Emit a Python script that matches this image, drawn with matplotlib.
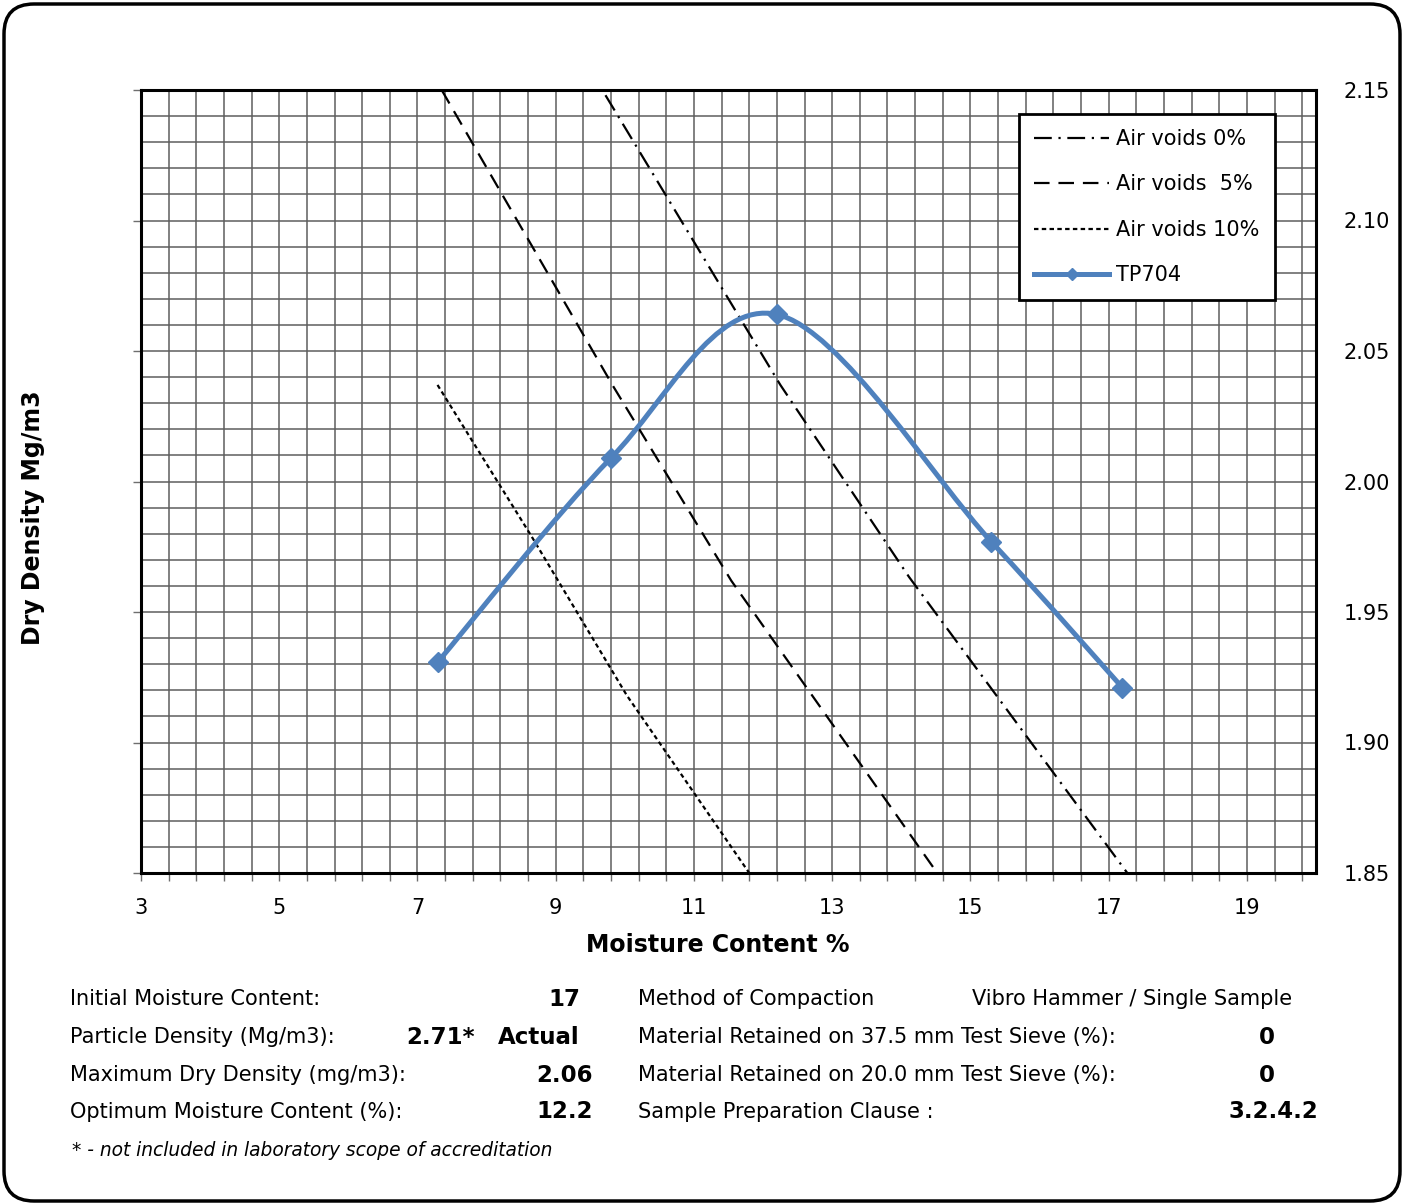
import numpy as np
import matplotlib
matplotlib.use("Agg")
import matplotlib.pyplot as plt
from matplotlib.path import Path
from matplotlib.patches import PathPatch, FancyBboxPatch
from matplotlib.lines import Line2D
from matplotlib.ticker import MultipleLocator, FormatStrFormatter

# compaction test results
moisture = [7.3, 9.8, 12.2, 15.3, 17.2]
dry_density = [1.931, 2.009, 2.064, 1.977, 1.921]
series_name = "TP704"

# air voids lines (moisture %, dry density)
av0_w = [9.72, 12.25, 14.11, 17.27]
av0_d = [2.148, 2.037, 1.9635, 1.850]
av5_w = [7.35, 9.82, 11.54, 14.52]
av5_d = [2.150, 2.037, 1.962, 1.850]
av10_w = [7.29, 8.65, 10.03, 11.80]
av10_d = [2.037, 1.979, 1.918, 1.850]

left_labels = ["Initial Moisture Content:", "Particle Density (Mg/m3):",
               "Maximum Dry Density (mg/m3):", "Optimum Moisture Content (%):"]
right_labels = ["Method of Compaction",
                "Material Retained on 37.5 mm Test Sieve (%):",
                "Material Retained on 20.0 mm Test Sieve (%):",
                "Sample Preparation Clause :"]

blue = "#4F81BD"
W, H = 1407, 1204
plt.rcParams["font.family"] = "DejaVu Sans"


def smooth_path(xs, ys):
    # bezier segments with catmull-rom style control points (spreadsheet "smoothed line")
    pts = np.column_stack([xs, ys])
    n = len(pts)
    verts = [pts[0]]
    codes = [Path.MOVETO]
    for i in range(n - 1):
        p0 = pts[i - 1] if i > 0 else pts[i]
        p1 = pts[i]
        p2 = pts[i + 1]
        p3 = pts[i + 2] if i + 2 < n else pts[i + 1]
        verts += [p1 + (p2 - p0) / 6, p2 - (p3 - p1) / 6, p2]
        codes += [Path.CURVE4] * 3
    return Path(verts, codes)


def fx(px):
    return px / W


def fy(py):
    return 1 - py / H


fig = plt.figure(figsize=(W / 100, H / 100), dpi=100)
ax = fig.add_axes([fx(141), fy(873), fx(1316) - fx(141), fy(90) - fy(873)])

lw_av = 1.6
ax.plot(av0_w, av0_d, color="black", lw=lw_av, dashes=(8, 3, 1, 3), zorder=3)
ax.plot(av5_w, av5_d, color="black", lw=lw_av, dashes=(7, 4), zorder=3)
ax.plot(av10_w, av10_d, color="black", lw=lw_av, dashes=(2, 1.5), zorder=3)

ax.add_patch(PathPatch(smooth_path(moisture, dry_density), fill=False,
                       edgecolor=blue, lw=3.6, zorder=4, capstyle="round"))
ax.plot(moisture, dry_density, linestyle="none", marker="D", ms=10,
        color=blue, zorder=5)

ax.set_xlim(3, 20)
ax.set_ylim(1.85, 2.15)
ax.xaxis.set_major_locator(MultipleLocator(2, offset=1))
ax.xaxis.set_minor_locator(MultipleLocator(0.4, offset=0.2))
ax.yaxis.set_major_locator(MultipleLocator(0.05))
ax.yaxis.set_minor_locator(MultipleLocator(0.01))
ax.yaxis.set_major_formatter(FormatStrFormatter("%.2f"))

ax.set_axisbelow(True)
ax.grid(which="both", color="#5e5e5e", lw=1.1)
for sp in ax.spines.values():
    sp.set_linewidth(2.2)
    sp.set_color("black")
    sp.set_zorder(6)

ax.tick_params(axis="x", which="both", direction="out", length=6, width=1,
               color="#6e6e6e", labelsize=15, pad=12)
ax.tick_params(axis="y", which="major", direction="out", length=6, width=1,
               color="#6e6e6e", left=True, right=False, labelleft=False,
               labelright=True, labelsize=15, pad=14)
ax.tick_params(axis="y", which="minor", left=False, right=False)

handles = [
    Line2D([], [], color="black", lw=lw_av, dashes=(8, 3, 1, 3)),
    Line2D([], [], color="black", lw=lw_av, dashes=(7, 4)),
    Line2D([], [], color="black", lw=lw_av, dashes=(2, 1.5)),
    Line2D([], [], color=blue, lw=3.6, marker="D", ms=6),
]
labels = ["Air voids 0%", "Air voids  5%", "Air voids 10%", series_name]
leg = ax.legend(handles, labels, loc="upper left",
                bbox_to_anchor=(fx(1019), fy(114)), bbox_transform=fig.transFigure,
                fontsize=15, frameon=True, fancybox=False, framealpha=1,
                edgecolor="black", handlelength=3.6, handletextpad=0.35,
                labelspacing=1.22, borderpad=0.72, borderaxespad=0)
leg.get_frame().set_linewidth(2)
leg.set_zorder(10)

fig.text(fx(718), fy(945), "Moisture Content %", fontsize=17, fontweight="bold",
         ha="center", va="center")
fig.text(fx(33), fy(518), "Dry Density Mg/m3", fontsize=17, fontweight="bold",
         ha="center", va="center", rotation=90)

# results table under the chart
rows_y = [999, 1037, 1075, 1112]
for lab, y in zip(left_labels, rows_y):
    fig.text(fx(70), fy(y), lab, fontsize=15, ha="left", va="center")
for lab, y in zip(right_labels, rows_y):
    fig.text(fx(638), fy(y), lab, fontsize=15, ha="left", va="center")

bold = dict(fontsize=16.5, fontweight="bold", va="center")
fig.text(fx(580), fy(rows_y[0]), "17", ha="right", **bold)
fig.text(fx(406), fy(rows_y[1]), "2.71*", ha="left", **bold)
fig.text(fx(580), fy(rows_y[1]), "Actual", ha="right", **bold)
fig.text(fx(593), fy(rows_y[2]), "2.06", ha="right", **bold)
fig.text(fx(593), fy(rows_y[3]), "12.2", ha="right", **bold)

fig.text(fx(1292), fy(rows_y[0]), "Vibro Hammer / Single Sample", fontsize=15,
         ha="right", va="center")
fig.text(fx(1267), fy(rows_y[1]), "0", ha="center", **bold)
fig.text(fx(1267), fy(rows_y[2]), "0", ha="center", **bold)
fig.text(fx(1318), fy(rows_y[3]), "3.2.4.2", ha="right", **bold)

fig.text(fx(72), fy(1151), "* - not included in laboratory scope of accreditation",
         fontsize=13.4, style="italic", ha="left", va="center")

# rounded frame around the whole sheet
frame = FancyBboxPatch((0.04, 0.03), 13.96, 11.97,
                       boxstyle="round,pad=0,rounding_size=0.3",
                       transform=fig.dpi_scale_trans, fill=False,
                       edgecolor="black", lw=2.5)
fig.add_artist(frame)

fig.savefig("out.png", dpi=100)
